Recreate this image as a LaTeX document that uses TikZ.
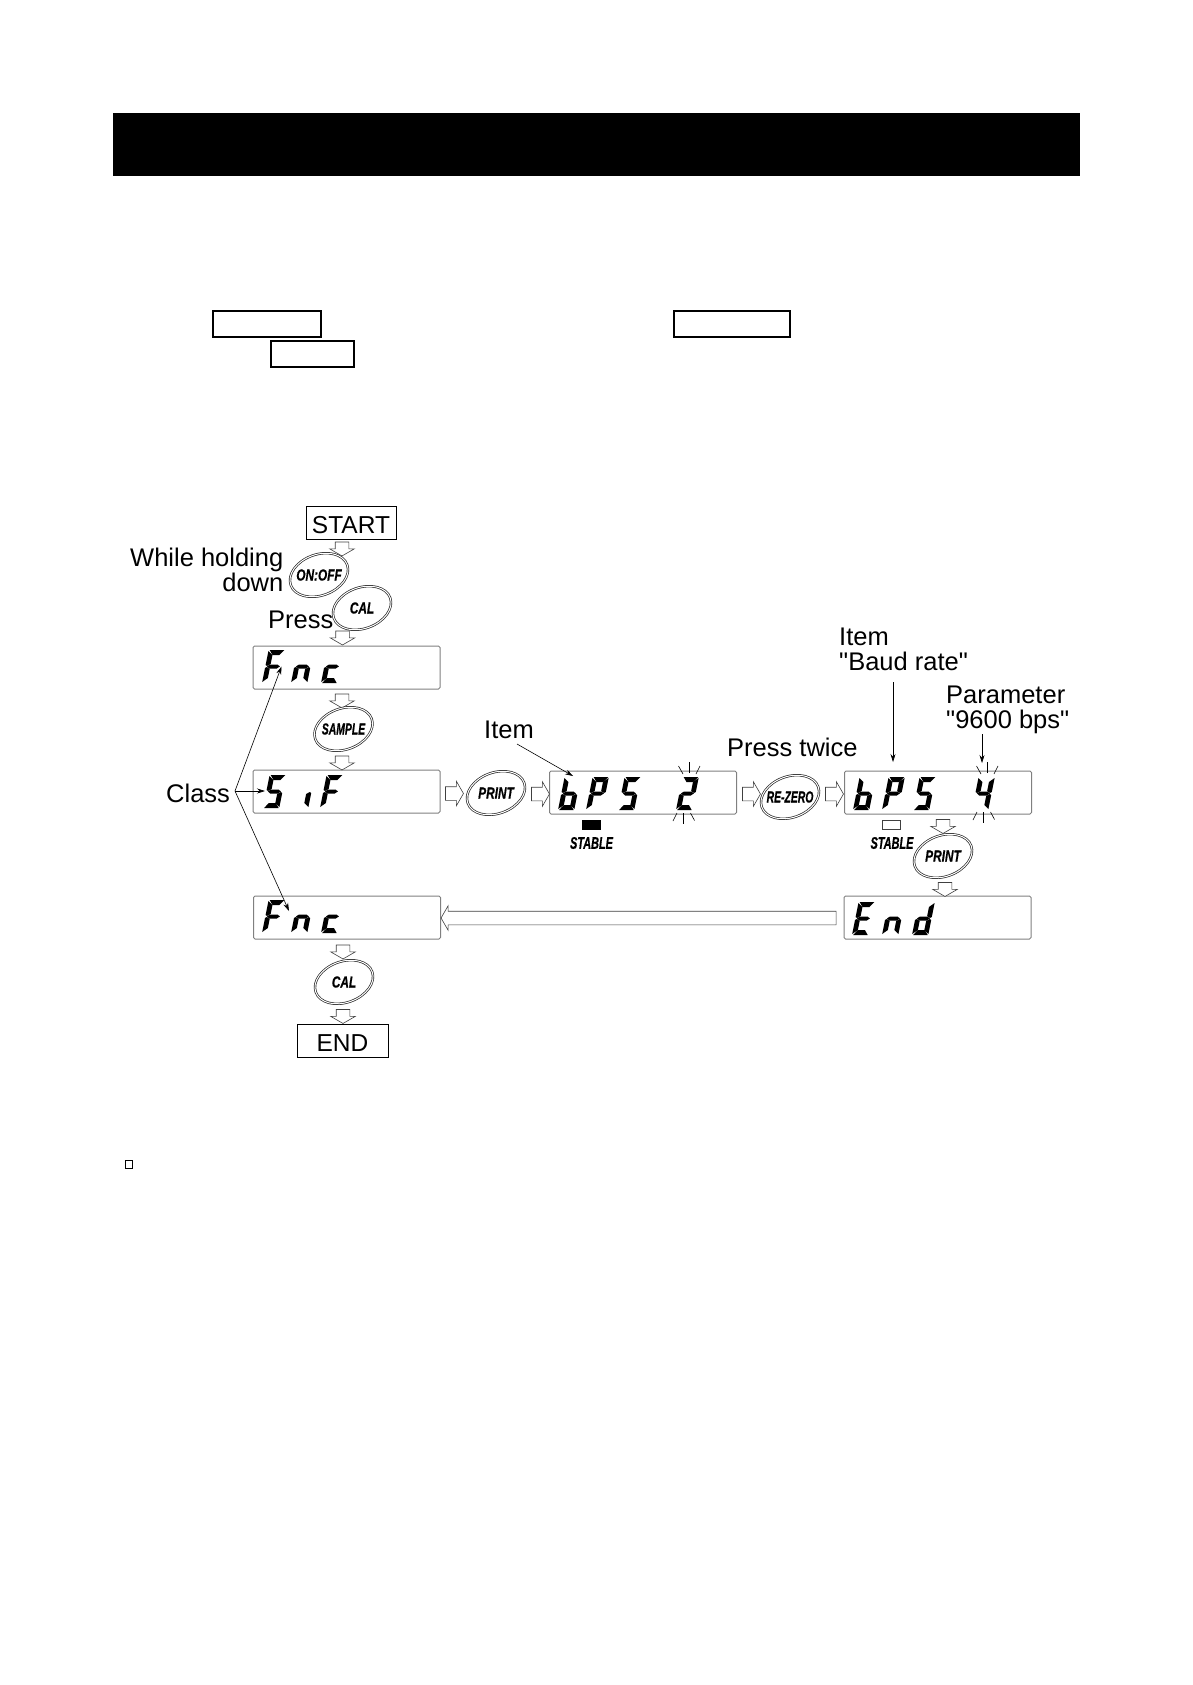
\documentclass[tikz,border=0pt]{standalone}
\usepackage{fontspec}
\newfontfamily\labelfont{Liberation Sans}
\newfontfamily\keyfont{Liberation Sans}[FakeStretch=0.74,FakeBold=0.6]
\newfontfamily\keynarrow{Liberation Sans}[FakeStretch=0.65,FakeBold=0.6]
\usetikzlibrary{arrows.meta,shapes.arrows}
\newcommand{\lcdsega}{(1,33) -- (14.5,33) -- (11,28) -- (4.5,28) -- cycle}
\newcommand{\lcdsegb}{(15,32) -- (15,18) -- (13.5,17) -- (10.5,19) -- (10.5,28) -- cycle}
\newcommand{\lcdsegc}{(15,1) -- (15,15) -- (13.5,16) -- (10.5,14) -- (10.5,5) -- cycle}
\newcommand{\lcdsegd}{(1,0) -- (14.5,0) -- (11,5) -- (4.5,5) -- cycle}
\newcommand{\lcdsege}{(0,1) -- (0,15) -- (1.5,16) -- (4.5,14) -- (4.5,5) -- cycle}
\newcommand{\lcdsegf}{(0,32) -- (0,18) -- (1.5,17) -- (4.5,19) -- (4.5,28) -- cycle}
\newcommand{\lcdsegg}{(1.5,16.5) -- (4,18.5) -- (11,18.5) -- (13.5,16.5) -- (11,14.5) -- (4,14.5) -- cycle}
\newcommand{\lcdchar}[3]{%
\begin{scope}[shift={(#1,#2)},x=1.08pt,y=1pt,xslant=.2]
\foreach \segname in {#3} {\fill \csname lcdseg\segname\endcsname;}
\end{scope}}
\newcommand{\flashtop}[2]{%
\draw[flashtick] (#1,#2) -- ++(0,-11);
\draw[flashtick] (#1-6,#2+1) -- (#1-10.5,#2-7);
\draw[flashtick] (#1+7,#2+1) -- (#1+11,#2-7);}
\newcommand{\flashbottom}[2]{%
\draw[flashtick] (#1,#2) -- ++(0,11);
\draw[flashtick] (#1-6,#2) -- (#1-10,#2+8);
\draw[flashtick] (#1+7.5,#2) -- (#1+11.5,#2+7.5);}
\newcommand{\keyoval}[3]{%
\draw[keyring,rotate around={20:(#2)}] (#2) ellipse [x radius=30,y radius=20.5];
\node[keytext] (#1) at (#2) {#3};}
\tikzset{
  plaintext/.style={font=\labelfont\fontsize{25.5}{24.7}\selectfont,inner sep=0pt},
  framebox/.style={draw,line width=1pt,font=\labelfont\fontsize{24.5}{28}\selectfont,inner sep=0pt,
    minimum height=33pt,text height=21pt,text depth=0pt},
  blankbox/.style={draw,line width=1.2pt,minimum height=26pt,inner sep=0pt},
  lcdpanel/.style={draw=black!50,line width=1pt,rounded corners=1.5pt,minimum width=187pt,minimum height=43pt,inner sep=0pt},
  flowarrow/.style={single arrow,draw=black!75,line width=.6pt,fill=white,inner xsep=0pt,inner ysep=6.5pt,
    minimum height=14pt,single arrow head extend=5.5pt,single arrow tip angle=120},
  keyring/.style={draw=black!85,fill=white,line width=.7pt,double=white,double distance=1pt},
  keytext/.style={font=\fontsize{16}{18}\bfseries\itshape,inner sep=0pt},
  calloutline/.style={line width=.6pt,-{Stealth[length=8pt,width=5pt]}},
  flashtick/.style={line width=.6pt},
}
\begin{document}
\begin{tikzpicture}[x=1pt,y=-1pt]
\useasboundingbox (0,0) rectangle (1192,1685);
\fill (113,113) rectangle (1080,176);
\node[blankbox,minimum width=108pt] (keyboxa) at (267,324) {};
\node[blankbox,minimum width=116pt] (keyboxb) at (732,324) {};
\node[blankbox,minimum width=83pt] (keyboxc) at (312.5,354) {};
\node[draw,line width=1pt,minimum size=7.5pt,inner sep=0pt] (notebox) at (129,1164.5) {};

\node[framebox,minimum width=90pt] (start) at (351,522.5) {START};
\node[framebox,minimum width=91pt] (finish) at (342.5,1040.5) {END};
\node[plaintext,anchor=base east,align=right] (holding) at (283.5,591) {While holding\\down};
\node[plaintext,anchor=base west] (press) at (268,628) {Press};
\node[plaintext,anchor=base west] (classlabel) at (166,802) {Class};
\node[plaintext,anchor=base west] (itemlabel) at (484,738) {Item};
\node[plaintext,anchor=base west] (presstwice) at (727,756) {Press twice};
\node[plaintext,anchor=base west,align=left] (baudlabel) at (839,670) {Item\\"Baud rate"};
\node[plaintext,anchor=base west,align=left] (paramlabel) at (946,728) {Parameter\\"9600 bps"};

\node[lcdpanel] (fncfirst) at (346.5,667.5) {};
\node[lcdpanel] (sif) at (346.5,791.5) {};
\node[lcdpanel] (bpstwo) at (643,792.5) {};
\node[lcdpanel] (bpsfour) at (938,792.5) {};
\node[lcdpanel] (fncsecond) at (347,917.5) {};
\node[lcdpanel] (endpanel) at (937.5,917.5) {};

\lcdchar{262}{683}{a,f,e,g}
\lcdchar{291}{683}{e,g,c}
\lcdchar{321}{683}{e,g,d}
\lcdchar{263}{808}{a,f,g,c,d}
\lcdchar{292}{808}{c}
\lcdchar{320}{808}{a,f,e,g}
\lcdchar{558}{810}{f,e,g,c,d}
\lcdchar{586}{810}{a,f,e,b,g}
\lcdchar{618}{810}{a,f,g,c,d}
\lcdchar{676}{810}{a,b,g,e,d}
\lcdchar{853}{810}{f,e,g,c,d}
\lcdchar{882}{810}{a,f,e,b,g}
\lcdchar{913}{810}{a,f,g,c,d}
\lcdchar{972}{810}{f,g,b,c}
\lcdchar{262}{933}{a,f,e,g}
\lcdchar{291}{933}{e,g,c}
\lcdchar{321}{933}{e,g,d}
\lcdchar{852}{935}{a,f,e,g,d}
\lcdchar{882}{935}{e,g,c}
\lcdchar{912}{935}{b,c,g,e,d}

\flashtop{689}{773}
\flashbottom{683}{813}
\flashtop{987}{773}
\flashbottom{983}{812}

\node[flowarrow,rotate=-90] (arrowa) at (342,547) {};
\node[flowarrow,rotate=-90] (arrowb) at (342.5,636) {};
\node[flowarrow,rotate=-90] (arrowc) at (342,699) {};
\node[flowarrow,rotate=-90] (arrowd) at (342,761) {};
\node[flowarrow,minimum height=18pt] (arrowe) at (452.5,793.5) {};
\node[flowarrow,minimum height=18pt] (arrowf) at (538.5,794) {};
\node[flowarrow,minimum height=18pt] (arrowg) at (749.5,794) {};
\node[flowarrow,minimum height=18pt] (arrowh) at (832.5,794) {};
\node[flowarrow,rotate=-90] (arrowi) at (943,824.5) {};
\node[flowarrow,rotate=-90] (arrowj) at (945,887.5) {};
\node[flowarrow,rotate=-90] (arrowk) at (343,950) {};
\node[flowarrow,rotate=-90] (arrowl) at (343,1014.5) {};
\node[flowarrow,rotate=180,minimum height=395pt] (arrowback) at (640.5,918) {};

\keyoval{onoff}{319,575}{\keyfont ON:OFF}
\keyoval{calfirst}{362,608}{\keyfont CAL}
\keyoval{sample}{343.5,729}{\keynarrow SAMPLE}
\keyoval{printfirst}{496,793}{\keyfont PRINT}
\keyoval{rezero}{790,797}{\keynarrow RE-ZERO}
\keyoval{printsecond}{943,856}{\keyfont PRINT}
\keyoval{calsecond}{344,982}{\keyfont CAL}

\node[draw,line width=.6pt,fill=black,minimum width=18pt,minimum height=9pt,inner sep=0pt] (stableon) at (591,824.5) {};
\node[keytext,font=\fontsize{16.8}{18}\bfseries\itshape\keynarrow] (stableontext) at (591.5,843) {STABLE};
\node[draw=black!75,line width=.6pt,minimum width=18pt,minimum height=9pt,inner sep=0pt] (stableoff) at (891,824.5) {};
\node[keytext,font=\fontsize{16.8}{18}\bfseries\itshape\keynarrow] (stableofftext) at (892,843) {STABLE};

\coordinate (classfork) at (235,791);
\coordinate (fncfirsttip) at (281.5,666.5);
\coordinate (siftip) at (265,791);
\coordinate (fncsecondtip) at (289,911);
\coordinate (itemstart) at (517,744);
\coordinate (itemtip) at (573,776);
\coordinate (baudstart) at (893,682);
\coordinate (baudtip) at (893,762);
\coordinate (paramstart) at (982,734);
\coordinate (paramtip) at (982,763);
\draw[calloutline] (classfork) -- (fncfirsttip);
\draw[calloutline] (classfork) -- (siftip);
\draw[calloutline] (classfork) -- (fncsecondtip);
\draw[calloutline] (itemstart) -- (itemtip);
\draw[calloutline] (baudstart) -- (baudtip);
\draw[calloutline] (paramstart) -- (paramtip);
\end{tikzpicture}
\end{document}
